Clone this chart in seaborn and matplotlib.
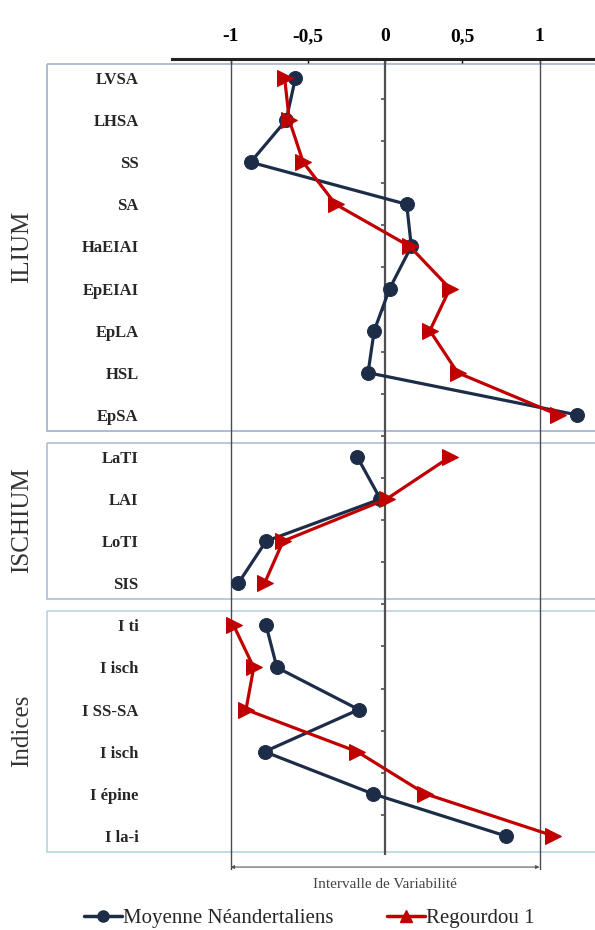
import numpy as np
import pandas as pd
import seaborn as sns
import matplotlib.pyplot as plt
from matplotlib.lines import Line2D
from matplotlib.patches import Rectangle
from matplotlib.transforms import blended_transform_factory

# Mesures (de haut en bas)
mesures = ["LVSA", "LHSA", "SS", "SA", "HaEIAI", "EpEIAI", "EpLA", "HSL", "EpSA",
           "LaTI", "LAI", "LoTI", "SIS",
           "I ti", "I isch", "I SS-SA", "I isch", "I épine", "I la-i"]
groupes = ["ILIUM"] * 9 + ["ISCHIUM"] * 4 + ["Indices"] * 6

# Valeurs
neandertaliens = [-0.58, -0.64, -0.87, 0.14, 0.17, 0.03, -0.07, -0.11, 1.24,
                  -0.18, -0.03, -0.77, -0.95,
                  -0.77, -0.70, -0.17, -0.78, -0.08, 0.78]
regourdou = [-0.65, -0.62, -0.53, -0.32, 0.16, 0.42, 0.29, 0.47, 1.12,
             0.42, 0.01, -0.66, -0.78,
             -0.98, -0.85, -0.90, -0.18, 0.26, 1.09]

series = ["Moyenne Néandertaliens", "Regourdou 1"]
couleurs = {"Moyenne Néandertaliens": "#1d2d48", "Regourdou 1": "#c00000"}
marqueurs = {"Moyenne Néandertaliens": "o", "Regourdou 1": ">"}

xticks = [-1, -0.5, 0, 0.5, 1]
xticklabels = ["-1", "-0,5", "0", "0,5", "1"]

pos = np.arange(len(mesures))
df = pd.concat([
    pd.DataFrame({"pos": pos, "valeur": neandertaliens, "groupe": groupes, "serie": series[0]}),
    pd.DataFrame({"pos": pos, "valeur": regourdou, "groupe": groupes, "serie": series[1]}),
])

sns.set_style("white")
plt.rcParams["font.family"] = ["Liberation Serif", "DejaVu Serif"]

fig = plt.figure(figsize=(5.95, 9.3), dpi=100)
ax = fig.add_axes([172 / 595, 1 - 870 / 930, 423 / 595, (870 - 59) / 930])

# lignes de reference
ax.axvline(-1, color="#4a4a5a", lw=1, zorder=1)
ax.axvline(1, color="#4a4a5a", lw=1, zorder=1)
ax.vlines(0, -0.45, 18.46, color="#505050", lw=1.6, zorder=1)
ax.hlines(pos[:-1] + 0.5, -0.025, 0, color="#505050", lw=1.2, zorder=1)

for serie in series:
    sub = df[df["serie"] == serie]
    for g in ["ILIUM", "ISCHIUM", "Indices"]:
        d = sub[sub["groupe"] == g]
        sns.lineplot(data=d, x="valeur", y="pos", orient="y", sort=False,
                     estimator=None, color=couleurs[serie], lw=2.3,
                     marker=marqueurs[serie],
                     markersize=10 if serie == series[0] else 11,
                     markeredgecolor=couleurs[serie], ax=ax, legend=False, zorder=3)

ax.set_xlim(-1.379, 1.359)
ax.set_ylim(18.81, -0.451)
ax.set_xlabel("")
ax.set_ylabel("")

# axe du haut
ax.xaxis.tick_top()
ax.set_xticks(xticks)
ax.set_xticklabels(xticklabels, fontweight="bold", fontsize=14)
ax.tick_params(axis="x", direction="in", length=3, width=1, pad=10, colors="black")
for s in ["left", "right", "bottom"]:
    ax.spines[s].set_visible(False)
ax.spines["top"].set_linewidth(2.2)
ax.spines["top"].set_color("#222222")

ax.set_yticks(pos)
ax.set_yticklabels(mesures, fontweight="bold", fontsize=12)
ax.tick_params(axis="y", length=0, pad=24)

# cadres des groupes
tr = blended_transform_factory(fig.transFigure, ax.transData)
cadres = [("ILIUM", 0, 8, "#a6afcc"), ("ISCHIUM", 9, 12, "#aebfd6"), ("Indices", 13, 18, "#b6d6e2")]
for nom, a, b, col in cadres:
    ax.add_patch(Rectangle((47 / 595, a - 0.34), 1.0, (b - a) + 0.72, transform=tr,
                           fill=False, edgecolor=col, lw=1.2, clip_on=False, zorder=0))
    ax.text(22 / 595, (a + b) / 2, nom, transform=tr, rotation=90, ha="center",
            va="center", fontsize=18, color="#333333")

# intervalle de variabilite
ax.annotate("", xy=(-1, 18.74), xytext=(1, 18.74),
            arrowprops=dict(arrowstyle="<|-|>", color="#555555", lw=0.8,
                            mutation_scale=5, shrinkA=0, shrinkB=0),
            annotation_clip=False)
ax.text(0, 19.15, "Intervalle de Variabilité", ha="center", va="center",
        fontsize=11, color="#444444", clip_on=False)

handles = [
    Line2D([], [], color=couleurs[series[0]], lw=2.5, marker="o", markersize=8),
    Line2D([], [], color=couleurs[series[1]], lw=2.5, marker="^", markersize=8),
]
fig.legend(handles, series, loc="center", bbox_to_anchor=(0.52, 1 - 918 / 930),
           ncol=2, frameon=False, fontsize=15, handlelength=1.8,
           handletextpad=0.05, columnspacing=2.6)

fig.savefig("out.png", dpi=100)
